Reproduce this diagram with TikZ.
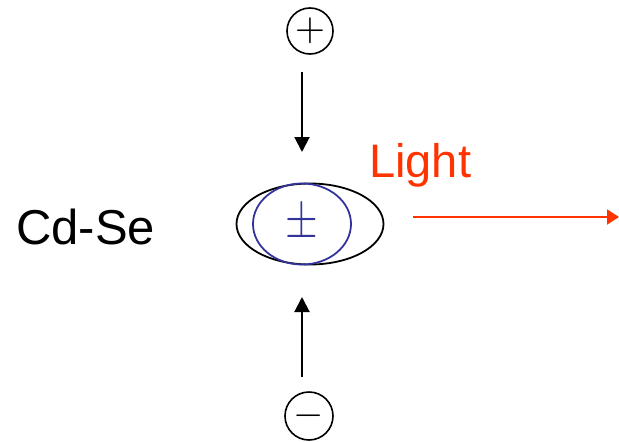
\documentclass[tikz,border=0pt]{standalone}
\usepackage[no-math]{fontspec}
\newfontfamily\arial{Liberation Sans}
\usetikzlibrary{arrows.meta,shapes.geometric}
\definecolor{lightred}{HTML}{FF3300}
\definecolor{exblue}{HTML}{333399}
\begin{document}
\begin{tikzpicture}[x=1pt,y=-1pt,
  charge/.style={draw, circle, minimum size=46pt, inner sep=0pt, line width=1.6pt},
  flow/.style={-{Triangle[length=15pt,width=15pt]}, line width=2pt},
  lbl/.style={inner sep=0pt, anchor=base west}]
\useasboundingbox (0,0) rectangle (619,442);
\node[charge] (p) at (310,31) {\scalebox{3.9}{$+$}};
\node[charge, minimum size=48pt] (m) at (309,416) {\scalebox{3.9}{$-$}};
\node[draw, ellipse, line width=1.8pt, minimum width=147pt, minimum height=81pt, inner sep=0pt] (e) at (310,224) {};
\node[draw=exblue, text=exblue, ellipse, line width=1.8pt, minimum width=98pt, minimum height=81pt, inner sep=0pt] (b) at (302,224) {\raisebox{2pt}{\scalebox{4.2}[5.4]{$\pm$}}};
\node[lbl, font=\arial\fontsize{49}{49}\selectfont] (cdse) at (16,244) {Cd-Se};
\node[lbl, text=lightred, font=\arial\fontsize{47}{47}\selectfont] (light) at (369,177) {Light};
\coordinate (a1) at (302,72);
\coordinate (a2) at (302,152);
\coordinate (b1) at (302,377);
\coordinate (b2) at (302,297);
\coordinate (c1) at (413,217);
\coordinate (c2) at (619,217);
\draw[flow] (a1) -- (a2);
\draw[flow] (b1) -- (b2);
\draw[flow, draw=lightred, -{Triangle[length=12pt,width=15pt]}, line width=2pt, lightred] (c1) -- (c2);
\end{tikzpicture}
\end{document}
